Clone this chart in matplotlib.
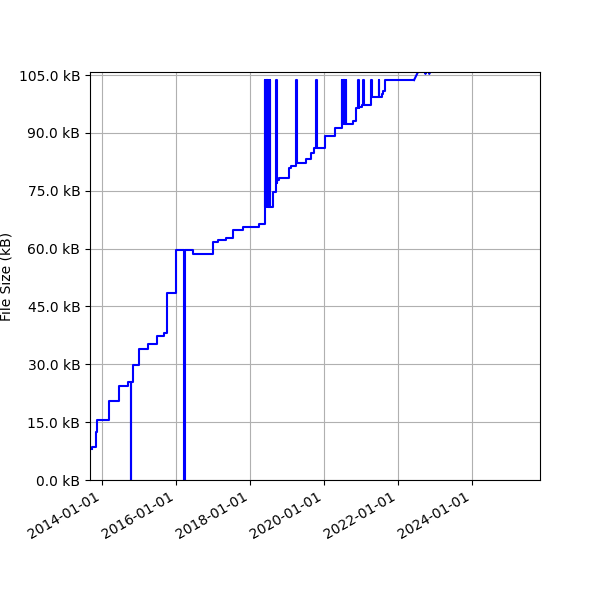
import matplotlib
matplotlib.use("Agg")
import matplotlib.pyplot as plt
import matplotlib.dates as mdates
from matplotlib.ticker import FuncFormatter
from datetime import datetime, timedelta

# commit history (date, size in kB)
dates = [
    "2013-09-20", "2013-09-28", "2013-11-01", "2013-11-10", "2014-03-10",
    "2014-06-20", "2014-09-20", "2014-10-12", "2014-10-14", "2014-11-05",
    "2015-01-01", "2015-04-01", "2015-07-01", "2015-09-05", "2015-10-08",
    "2016-01-01", "2016-03-20", "2016-03-22", "2016-03-26", "2016-03-28",
    "2016-06-20", "2017-01-05", "2017-02-20", "2017-05-15", "2017-07-15",
    "2017-10-25", "2018-04-01", "2018-06-01",
]
sizes = [
    8.0, 8.5, 12.5, 15.5, 20.5,
    24.3, 25.4, 0.0, 25.4, 29.8,
    33.9, 35.2, 37.4, 38.0, 48.5,
    59.6, 0.0, 59.6, 0.0, 59.6,
    58.6, 61.8, 62.2, 62.7, 64.8,
    65.7, 66.3, 70.9,
]

# burst of reverted commits, summer 2018
burst1_start = "2018-06-02"
burst1_count = 16
burst1_base = 70.9

dates += [
    "2018-07-28", "2018-08-20", "2018-09-20", "2018-09-23", "2018-09-28",
    "2018-10-20", "2019-01-20", "2019-02-10", "2019-04-05", "2019-04-08",
    "2019-07-05", "2019-09-01", "2019-09-25", "2019-10-20", "2019-10-23",
    "2020-01-10", "2020-04-20", "2020-06-27",
]
sizes += [
    70.9, 74.8, 103.7, 76.9, 77.8,
    78.4, 80.8, 81.3, 103.7, 82.1,
    83.2, 84.7, 86.0, 103.7, 86.0,
    89.2, 91.2, 92.2,
]

# second burst, summer 2020
burst2_start = "2020-06-28"
burst2_count = 14
burst2_base = 92.2

dates += [
    "2020-08-15", "2020-10-15", "2020-11-15", "2020-12-08", "2020-12-10",
    "2020-12-16", "2020-12-18", "2021-01-08", "2021-01-25", "2021-01-28",
    "2021-04-15", "2021-04-18", "2021-07-01", "2021-07-03", "2021-07-30",
    "2021-08-10", "2021-08-30", "2022-06-10",
]
sizes += [
    92.2, 93.1, 96.4, 103.7, 96.4,
    103.7, 96.8, 97.2, 103.7, 97.2,
    103.7, 99.2, 103.7, 99.2, 100.2,
    100.9, 103.7, 103.7,
]

tail_dates = ["2022-06-10", "2022-08-20", "2022-09-28", "2022-10-01", "2022-10-04",
              "2022-11-05", "2022-11-08", "2022-11-11", "2025-10-01"]
tail_sizes = [103.7, 107.5, 107.5, 105.3, 107.5, 107.5, 105.3, 107.5, 108.0]


def to_dt(s):
    return datetime.strptime(s, "%Y-%m-%d")


def burst(start, count, base):
    d0 = to_dt(start)
    bd, bs = [], []
    for i in range(count):
        bd.append(d0 + timedelta(days=3 * i))
        bs.append(103.7)
        bd.append(d0 + timedelta(days=3 * i + 1.5))
        bs.append(base)
    return bd, bs


xs = [to_dt(d) for d in dates]
ys = list(sizes)

b1d, b1s = burst(burst1_start, burst1_count, burst1_base)
b2d, b2s = burst(burst2_start, burst2_count, burst2_base)
pts = sorted(zip(xs + b1d + b2d, ys + b1s + b2s), key=lambda p: p[0])
xs = [p[0] for p in pts]
ys = [p[1] for p in pts]

fig = plt.figure(figsize=(6, 6), dpi=100)
ax = fig.add_axes([0.15, 0.2, 0.75, 0.68])
ax.plot(xs, ys, color="blue", linewidth=1.5, drawstyle="steps-post")
ax.plot([to_dt(d) for d in tail_dates], tail_sizes, color="blue", linewidth=1.5)

ax.set_xlim(datetime(2013, 9, 5), datetime(2025, 11, 5))
ax.set_ylim(0, 105.8)
ax.set_yticks([0, 15, 30, 45, 60, 75, 90, 105])
ax.yaxis.set_major_formatter(FuncFormatter(lambda v, p: "%.1f kB" % v))
ax.xaxis.set_major_locator(mdates.YearLocator(2))
ax.xaxis.set_major_formatter(mdates.DateFormatter("%Y-%m-%d"))
ax.set_ylabel("File Size (kB)")
ax.grid(True)
for lab in ax.get_xticklabels():
    lab.set_rotation(30)
    lab.set_ha("right")

fig.savefig("out.png", dpi=100)
